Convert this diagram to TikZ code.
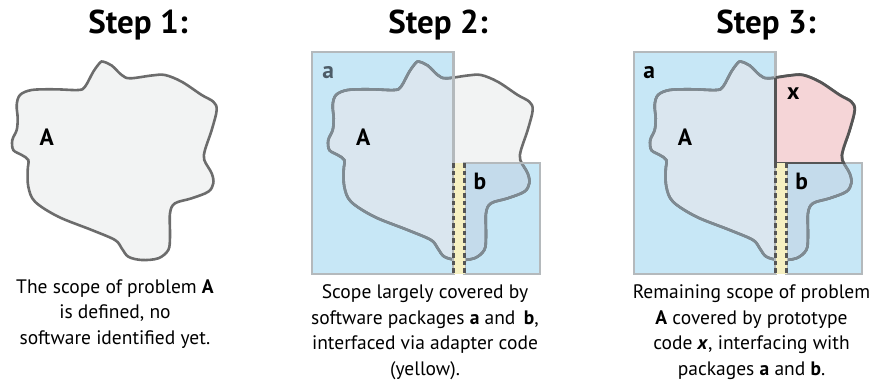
\documentclass[tikz,border=0pt]{standalone}
\usepackage{fontspec}
\setmainfont{PT Sans}
\definecolor{blobfill}{HTML}{F2F3F3}
\definecolor{blobedge}{HTML}{6C6C6C}
\definecolor{blobedgein}{HTML}{7E8A92}
\definecolor{boxblue}{HTML}{C7E7F6}
\definecolor{blobina}{HTML}{DAE6EF}
\definecolor{blobinb}{HTML}{C4DBEB}
\definecolor{boxedge}{HTML}{B4B9BC}
\definecolor{adapter}{HTML}{F6F0C2}
\definecolor{dashgray}{HTML}{555555}
\definecolor{pinkfill}{HTML}{F5D5D7}
\definecolor{labelgray}{HTML}{4D5C67}
\tikzset{
  blobline/.style={draw=blobedge, line width=2.6pt},
  bloblinein/.style={draw=blobedgein, line width=2.6pt},
  boxfill/.style={fill=boxblue},
  boxborder/.style={draw=boxedge, line width=2.8pt},
  adapterfill/.style={fill=adapter},
  adapterdash/.style={draw=dashgray, line width=3pt, dash pattern=on 4.5pt off 3pt},
  xedge/.style={draw=dashgray, line width=2.8pt, line join=round},
  title/.style={font=\bfseries\fontsize{33}{36}\selectfont, anchor=base, inner sep=0pt},
  lbl/.style={font=\bfseries\fontsize{23.5}{26}\selectfont, anchor=base, inner sep=0pt},
  caption/.style={font=\fontsize{19.5}{25.5}\selectfont, align=center, anchor=north, inner sep=0pt},
}
\newcommand\blobshape{plot[smooth cycle, tension=0.55] coordinates {
 (103.3,61.7) (111.7,65.5) (121.7,75) (130,78.3) (151.7,75.5) (165,75) (181.7,81.7)
 (201.7,95) (213.3,101.7) (216.7,110) (211.7,130) (205,150) (204.3,160) (211.7,173.3)
 (213.3,183.3) (208.3,191.7) (191.7,198.3) (175,203.3) (170,213.3) (170,236.7)
 (168.3,250) (158.3,258.3) (141.7,260) (128.3,256.7) (121.7,248.3) (115,240)
 (91.7,230) (58.3,216.7) (35,201.7) (28.3,186.7) (27.7,170) (28.3,160) (21.7,155)
 (13.3,150) (12.3,140) (16.7,130) (17.7,118.3) (16.7,105) (20,95) (31.7,90)
 (55,89.3) (78.3,90) (85,86.7) (93.3,71.7) (100,62.7)}}
\newcommand\boxApath{(-4,52) rectangle (137.5,274)}
\newcommand\boxBpath{(148.5,163) rectangle (224,274)}
\newcommand\strippath{(137.5,163) rectangle (148.5,274)}
\begin{document}
\begin{tikzpicture}[x=1pt, y=-1pt]
\useasboundingbox (0,0) rectangle (884,381);

% ---------- Step 1 ----------
\fill[blobfill] \blobshape;
\draw[blobline] \blobshape;
\node[title] (t1) at (138,33) {Step 1:};
\node[lbl] (A1) at (46.7,145) {A};
\node[caption] (c1) at (115,279.5) {The scope of problem \textbf{A}\\is defined, no\\software identified yet.};

% ---------- Step 2 ----------
\begin{scope}[shift={(316,0)}]
  \fill[boxfill] \boxApath;
  \fill[boxfill] \boxBpath;
  \fill[blobfill] \blobshape;
  \begin{scope}\clip \boxApath; \fill[blobina] \blobshape; \end{scope}
  \begin{scope}\clip \boxBpath; \fill[blobinb] \blobshape; \end{scope}
  \draw[blobline] \blobshape;
  \begin{scope}\clip \boxApath; \draw[bloblinein] \blobshape; \end{scope}
  \begin{scope}\clip \boxBpath; \draw[bloblinein] \blobshape; \end{scope}
  \draw[boxborder] \boxApath;
  \draw[boxborder] \boxBpath;
  \fill[adapterfill] \strippath;
  \draw[adapterdash] (137.5,163) -- (137.5,274);
  \draw[adapterdash] (148.5,163) -- (148.5,274);
\end{scope}
\node[title] (t2) at (438,33) {Step 2:};
\node[lbl, text=labelgray] (a2) at (328.3,78.3) {a};
\node[lbl] (A2) at (363.3,145) {A};
\node[lbl] (b2) at (480,189) {b};
\node[caption] (c2) at (425,284.5) {Scope largely covered by\\software packages \textbf{a} and \,\textbf{b},\\interfaced via adapter code\\(yellow).};

% ---------- Step 3 ----------
\begin{scope}[shift={(638,0)}]
  \fill[boxfill] \boxApath;
  \fill[boxfill] \boxBpath;
  \fill[blobfill] \blobshape;
  \begin{scope}\clip \boxApath; \fill[blobina] \blobshape; \end{scope}
  \begin{scope}\clip \boxBpath; \fill[blobinb] \blobshape; \end{scope}
  \draw[blobline] \blobshape;
  \begin{scope}\clip \boxApath; \draw[bloblinein] \blobshape; \end{scope}
  \begin{scope}\clip \boxBpath; \draw[bloblinein] \blobshape; \end{scope}
  \draw[boxborder] \boxApath;
  \draw[boxborder] \boxBpath;
  \begin{scope}\clip (137.5,0) rectangle (260,163); \fill[pinkfill] \blobshape; \draw[xedge] \blobshape; \end{scope}
  \begin{scope}\clip \blobshape; \draw[xedge] (137.5,40) -- (137.5,163) -- (260,163); \end{scope}
  \fill[adapterfill] \strippath;
  \draw[adapterdash] (137.5,163) -- (137.5,274);
  \draw[adapterdash] (148.5,163) -- (148.5,274);
\end{scope}
\node[title] (t3) at (766,33) {Step 3:};
\node[lbl] (a3) at (649.3,78.3) {a};
\node[lbl] (A3) at (685,145) {A};
\node[lbl] (x3) at (793.3,99.3) {x};
\node[lbl] (b3) at (801.7,189) {b};
\node[caption] (c3) at (751.5,284.5) {Remaining scope of problem\\\textbf{A} covered by prototype\\code \textbf{\textit{x}}, interfacing with\\packages \textbf{a} and \textbf{b}.};
\end{tikzpicture}
\end{document}
